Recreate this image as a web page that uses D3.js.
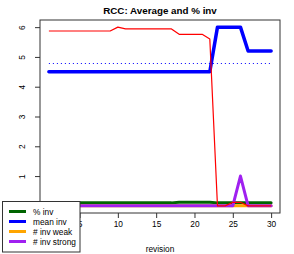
<!DOCTYPE html>
<html lang="en">
<head>
  <meta charset="utf-8">
  <script src="https://d3js.org/d3.v7.min.js"></script>
  <style>
    body { margin: 0; background: #fff; }
    svg text { font-family: "Liberation Sans", Arial, sans-serif; fill: #000; }
    .axis path, .axis line { stroke: #333; }
  </style>
</head>
<body>
<svg id="chart" width="294" height="254"></svg>
<script>
  // Values
  const revision  = [1,2,3,4,5,6,7,8,9,10,11,12,13,14,15,16,17,18,19,20,21,22,23,24,25,26,27,28,29,30];
  const pctInv    = [0.1,0.1,0.1,0.1,0.1,0.1,0.1,0.1,0.1,0.1,0.1,0.1,0.1,0.1,0.1,0.1,0.1,0.12,0.12,0.12,0.12,0.12,0.1,0.1,0.1,0.1,0.1,0.1,0.1,0.1];
  const meanInv   = [4.5,4.5,4.5,4.5,4.5,4.5,4.5,4.5,4.5,4.5,4.5,4.5,4.5,4.5,4.5,4.5,4.5,4.5,4.5,4.5,4.5,4.5,6,6,6,6,5.2,5.2,5.2,5.2];
  const invWeak   = [0,0,0,0,0,0,0,0,0,0,0,0,0,0,0,0,0,0,0,0,0,0,0,0,0,0,0,0,0,0];
  const invStrong = [0,0,0,0,0,0,0,0,0,0,0,0,0,0,0,0,0,0,0,0,0,0,0,0,0,1,0,0,0,0];
  const average   = [5.87,5.87,5.87,5.87,5.87,5.87,5.87,5.87,5.87,6.0,5.94,5.94,5.94,5.94,5.94,5.94,5.94,5.76,5.76,5.76,5.76,5.6,0,0,0.12,0.12,0,0,0,0];
  const xTicks = [5,10,15,20,25,30];
  const yTicks = [0,1,2,3,4,5,6];

  const series = [
    { name: "% inv",        values: pctInv,    color: "#006400", width: 3 },
    { name: "mean inv",     values: meanInv,   color: "#0000ff", width: 3.5 },
    { name: "# inv weak",   values: invWeak,   color: "#ffa500", width: 3 },
    { name: "# inv strong", values: invStrong, color: "#a020f0", width: 3 }
  ];

  const box = { left: 40, right: 280, top: 20, bottom: 213 };
  const svg = d3.select("#chart");

  // R style 4% padding of the axis ranges
  const xPad = (30 - 1) * 0.04, yPad = 6 * 0.04;
  const x = d3.scaleLinear().domain([1 - xPad, 30 + xPad]).range([box.left, box.right]);
  const y = d3.scaleLinear().domain([0 - yPad, 6 + yPad]).range([box.bottom, box.top]);

  const line = d3.line().x((d, i) => x(revision[i])).y(d => y(d));

  // series lines
  series.forEach(s => {
    svg.append("path")
      .attr("d", line(s.values))
      .attr("fill", "none")
      .attr("stroke", s.color)
      .attr("stroke-width", s.width)
      .attr("stroke-linejoin", "round")
      .attr("stroke-linecap", "round");
  });

  // dotted average of mean inv
  const avg = d3.mean(meanInv);
  const avgY = Math.round(y(avg)) + 0.5;
  svg.append("line")
    .attr("x1", x(revision[0])).attr("x2", x(revision[revision.length - 1]))
    .attr("y1", avgY).attr("y2", avgY)
    .attr("stroke", "#0000ff")
    .attr("stroke-dasharray", "1,3");

  // thin red line on top
  svg.append("path")
    .attr("d", line(average))
    .attr("fill", "none")
    .attr("stroke", "#ff0000")
    .attr("stroke-width", 1.2)
    .attr("stroke-linejoin", "round");

  // axes
  const xAxis = svg.append("g")
    .attr("class", "axis")
    .attr("transform", `translate(0,${box.bottom})`)
    .call(d3.axisBottom(x).tickValues(xTicks).tickSize(5).tickPadding(9).tickSizeOuter(0));
  xAxis.select(".domain").remove();
  xAxis.selectAll("text").attr("font-size", 8.3).attr("dy", 0);

  const yAxis = svg.append("g")
    .attr("class", "axis")
    .attr("transform", `translate(${box.left},0)`)
    .call(d3.axisLeft(y).tickValues(yTicks).tickFormat(d3.format("d")).tickSize(5).tickSizeOuter(0));
  yAxis.select(".domain").remove();
  yAxis.selectAll("text")
    .attr("font-size", 8.3)
    .attr("text-anchor", "middle")
    .attr("x", null).attr("dy", null)
    .attr("transform", "translate(-15,0) rotate(-90)");

  // plot box
  svg.append("rect")
    .attr("x", box.left).attr("y", box.top)
    .attr("width", box.right - box.left).attr("height", box.bottom - box.top)
    .attr("fill", "none").attr("stroke", "#333");

  // titles
  svg.append("text")
    .attr("x", (box.left + box.right) / 2).attr("y", 14)
    .attr("text-anchor", "middle")
    .attr("font-size", 9.8).attr("font-weight", "bold")
    .text("RCC: Average and % inv");

  svg.append("text")
    .attr("x", (box.left + box.right) / 2).attr("y", 251.5)
    .attr("text-anchor", "middle")
    .attr("font-size", 8.3)
    .text("revision");

  // legend
  const legend = svg.append("g");
  legend.append("rect")
    .attr("x", 2.5).attr("y", 201.5).attr("width", 77.5).attr("height", 50.5)
    .attr("fill", "#fff").attr("stroke", "#333");
  series.forEach((s, i) => {
    const ly = 211.5 + i * 10;
    legend.append("line")
      .attr("x1", 9).attr("x2", 26).attr("y1", ly).attr("y2", ly)
      .attr("stroke", s.color).attr("stroke-width", 3);
    legend.append("text")
      .attr("x", 33).attr("y", ly + 3)
      .attr("font-size", 8.3)
      .text(s.name);
  });
</script>
</body>
</html>
